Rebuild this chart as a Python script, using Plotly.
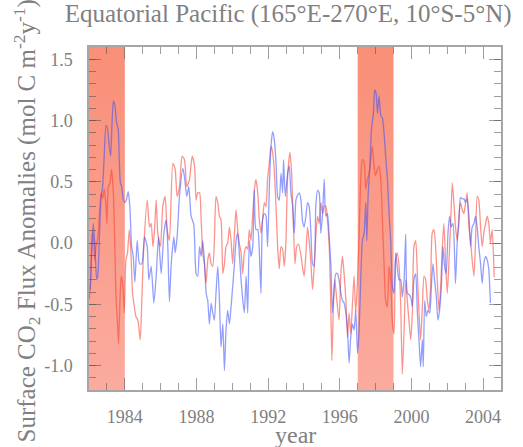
import plotly.graph_objects as go

# ---- data ----
blue_years = [1982.06, 1982.17, 1982.24, 1982.33, 1982.43, 1982.50, 1982.58, 1982.67, 1982.76, 1982.85,
              1982.95, 1983.04, 1983.13, 1983.21, 1983.28, 1983.36, 1983.45, 1983.54, 1983.63, 1983.69,
              1983.75, 1983.82, 1983.91, 1984.01, 1984.10, 1984.19, 1984.28, 1984.38, 1984.47, 1984.56,
              1984.69, 1984.82, 1984.95, 1985.10, 1985.25, 1985.34, 1985.47, 1985.62, 1985.75, 1985.88,
              1986.03, 1986.18, 1986.31, 1986.40, 1986.49, 1986.59, 1986.74, 1986.81, 1986.92, 1987.05,
              1987.24, 1987.33, 1987.46, 1987.57, 1987.70, 1987.85, 1987.98, 1988.07, 1988.17, 1988.26,
              1988.35, 1988.44, 1988.54, 1988.63, 1988.72, 1988.82, 1988.91, 1989.00, 1989.09, 1989.19,
              1989.28, 1989.37, 1989.47, 1989.56, 1989.65, 1989.74, 1989.84, 1989.93, 1990.02, 1990.12,
              1990.21, 1990.30, 1990.39, 1990.49, 1990.58, 1990.67, 1990.77, 1990.86, 1990.95, 1991.04,
              1991.14, 1991.23, 1991.32, 1991.42, 1991.51, 1991.60, 1991.69, 1991.79, 1991.88, 1991.97,
              1992.07, 1992.16, 1992.25, 1992.34, 1992.44, 1992.53, 1992.62, 1992.72, 1992.81, 1992.86,
              1992.96, 1993.09, 1993.18, 1993.27, 1993.37, 1993.46, 1993.55, 1993.64, 1993.74, 1993.83,
              1993.92, 1994.01, 1994.11, 1994.20, 1994.29, 1994.39, 1994.48, 1994.57, 1994.66, 1994.76,
              1994.85, 1994.94, 1995.04, 1995.13, 1995.22, 1995.31, 1995.41, 1995.50, 1995.59, 1995.69,
              1995.78, 1995.87, 1995.96, 1996.06, 1996.15, 1996.24, 1996.34, 1996.43, 1996.52, 1996.61,
              1996.71, 1996.80, 1996.89, 1996.99, 1997.08, 1997.17, 1997.26, 1997.36, 1997.45, 1997.51,
              1997.58, 1997.69, 1997.77, 1997.88, 1997.95, 1998.03, 1998.10, 1998.19, 1998.29, 1998.38,
              1998.47, 1998.56, 1998.66, 1998.75, 1998.84, 1998.94, 1999.03, 1999.12, 1999.21, 1999.31,
              1999.40, 1999.49, 1999.59, 1999.68, 1999.77, 1999.86, 1999.96, 2000.05, 2000.14, 2000.24,
              2000.33, 2000.42, 2000.51, 2000.61, 2000.66, 2000.74, 2000.83, 2000.92, 2001.02, 2001.11,
              2001.20, 2001.29, 2001.39, 2001.48, 2001.57, 2001.67, 2001.76, 2001.85, 2001.94, 2002.04,
              2002.13, 2002.22, 2002.32, 2002.41, 2002.46, 2002.56, 2002.65, 2002.74, 2002.84, 2002.93,
              2003.02, 2003.11, 2003.21, 2003.30, 2003.39, 2003.49, 2003.58, 2003.67, 2003.76, 2003.86,
              2003.95, 2004.04, 2004.14, 2004.23, 2004.32, 2004.41]
blue_values = [-0.38, -0.03, 0.16, -0.03, -0.30, -0.25, 0.05, 0.36, 0.46, 0.71,
               0.96, 0.93, 0.79, 0.71, 0.96, 1.16, 1.12, 0.98, 0.93, 0.68,
               0.49, 0.46, 0.36, 0.33, 0.36, 0.42, 0.30, -0.03, -0.11, -0.32,
               0.02, -0.17, -0.17, 0.05, -0.03, -0.30, -0.19, -0.49, -0.27, 0.05,
               -0.25, 0.08, 0.19, -0.03, -0.48, -0.17, 0.05, -0.08, 0.05, 0.38,
               0.61, 0.54, 0.38, 0.46, 0.22, 0.15, -0.25, -0.27, -0.03, -0.11,
               0.02, -0.14, -0.41, -0.47, -0.66, -0.49, -0.57, -0.63, -0.41, -0.19,
               -0.46, -0.85, -0.66, -1.04, -0.71, -0.55, -0.66, -0.52, -0.36, -0.17,
               0.02, 0.08, -0.08, -0.30, -0.46, -0.57, -0.27, -0.57, 0.02, -0.11,
               -0.03, 0.43, 0.11, 0.11, -0.08, -0.41, 0.19, 0.24, 0.22, -0.03,
               0.46, 0.79, 0.91, 0.85, 0.66, 0.38, 0.35, 0.57, 0.41, 0.68,
               0.38, 0.57, 0.63, 0.41, 0.30, 0.08, 0.35, 0.39, 0.41, 0.35,
               0.18, 0.13, 0.22, 0.33, 0.30, 0.08, -0.17, -0.19, 0.30, 0.43,
               0.41, 0.08, 0.24, 0.52, 0.22, 0.24, 0.05, -0.17, -0.57, -0.36,
               -0.25, -0.25, -0.30, -0.41, -0.47, -0.49, -0.57, -0.71, -0.98, -0.77,
               -0.66, -0.71, -0.55, -0.90, -0.71, -0.30, 0.02, 0.08, 0.33, 0.02,
               0.38, 0.66, 0.93, 1.06, 1.25, 1.22, 1.06, 1.20, 1.04, 1.02,
               0.90, 0.71, 0.52, 0.24, 0.02, -0.36, -0.41, -0.08, -0.20, -0.30,
               -0.30, -0.44, -0.30, 0.07, -0.41, -0.42, -0.44, -0.52, -0.30, -0.25,
               -0.57, -0.79, -1.01, -0.79, -1.01, -0.47, -0.60, -0.55, -0.57, -0.36,
               -0.17, -0.30, -0.44, -0.63, -0.55, -0.36, -0.03, -0.19, -0.25, 0.08,
               0.22, 0.13, 0.16, -0.11, -0.33, 0.02, 0.16, 0.37, 0.36, 0.36,
               0.33, 0.36, 0.22, -0.03, 0.13, 0.16, 0.22, 0.13, -0.03, -0.17,
               -0.33, -0.17, -0.11, -0.14, -0.22, -0.49]

red_years = [1982.02, 1982.09, 1982.17, 1982.24, 1982.32, 1982.39, 1982.50, 1982.67, 1982.76, 1982.85,
             1982.95, 1983.00, 1983.08, 1983.17, 1983.26, 1983.36, 1983.43, 1983.50, 1983.60, 1983.65,
             1983.73, 1983.80, 1983.88, 1983.97, 1984.06, 1984.15, 1984.25, 1984.34, 1984.43, 1984.53,
             1984.62, 1984.73, 1984.86, 1984.95, 1985.06, 1985.25, 1985.38, 1985.47, 1985.57, 1985.66,
             1985.75, 1985.84, 1985.99, 1986.12, 1986.25, 1986.36, 1986.49, 1986.68, 1986.81, 1986.92,
             1987.05, 1987.20, 1987.33, 1987.46, 1987.61, 1987.76, 1987.89, 1987.98, 1988.07, 1988.17,
             1988.26, 1988.35, 1988.44, 1988.54, 1988.63, 1988.72, 1988.82, 1988.91, 1989.00, 1989.09,
             1989.19, 1989.28, 1989.37, 1989.47, 1989.56, 1989.65, 1989.74, 1989.84, 1989.93, 1990.02,
             1990.12, 1990.21, 1990.30, 1990.39, 1990.49, 1990.58, 1990.67, 1990.77, 1990.86, 1990.95,
             1991.04, 1991.14, 1991.23, 1991.32, 1991.42, 1991.51, 1991.60, 1991.69, 1991.79, 1991.88,
             1991.97, 1992.07, 1992.16, 1992.25, 1992.34, 1992.44, 1992.53, 1992.62, 1992.72, 1992.81,
             1992.90, 1992.99, 1993.09, 1993.22, 1993.31, 1993.40, 1993.50, 1993.59, 1993.70, 1993.83,
             1993.92, 1994.01, 1994.11, 1994.20, 1994.29, 1994.39, 1994.48, 1994.57, 1994.66, 1994.76,
             1994.85, 1994.94, 1995.04, 1995.13, 1995.22, 1995.31, 1995.41, 1995.50, 1995.56, 1995.65,
             1995.72, 1995.83, 1995.96, 1996.06, 1996.15, 1996.24, 1996.34, 1996.43, 1996.52, 1996.61,
             1996.71, 1996.80, 1996.89, 1996.99, 1997.08, 1997.17, 1997.26, 1997.36, 1997.45, 1997.54,
             1997.64, 1997.73, 1997.82, 1997.91, 1997.99, 1998.10, 1998.19, 1998.29, 1998.38, 1998.47,
             1998.56, 1998.66, 1998.75, 1998.84, 1998.94, 1999.03, 1999.12, 1999.21, 1999.31, 1999.40,
             1999.49, 1999.59, 1999.68, 1999.77, 1999.86, 1999.96, 2000.05, 2000.14, 2000.24, 2000.33,
             2000.42, 2000.51, 2000.61, 2000.70, 2000.79, 2000.89, 2000.98, 2001.07, 2001.16, 2001.26,
             2001.35, 2001.44, 2001.54, 2001.63, 2001.72, 2001.81, 2001.91, 2002.00, 2002.09, 2002.19,
             2002.28, 2002.37, 2002.46, 2002.56, 2002.65, 2002.74, 2002.84, 2002.93, 2003.02, 2003.11,
             2003.21, 2003.30, 2003.39, 2003.49, 2003.58, 2003.67, 2003.76, 2003.86, 2003.95, 2004.04,
             2004.14, 2004.23, 2004.32, 2004.41, 2004.51, 2004.62]
red_values = [-0.46, -0.33, 0.08, 0.05, -0.14, -0.03, 0.05, 0.41, 0.36, 0.44,
              0.30, 0.16, 0.46, 0.49, 0.60, 0.41, 0.05, -0.41, -0.68, -0.82,
              -0.46, -0.27, -0.33, -0.57, -0.14, -0.08, 0.11, -0.08, -0.41, -0.52,
              -0.60, -0.63, -0.79, -0.46, -0.03, 0.35, 0.13, 0.16, -0.03, 0.11,
              0.35, 0.08, -0.03, 0.30, 0.38, 0.11, 0.02, 0.65, 0.60, 0.38,
              0.46, 0.71, 0.68, 0.46, 0.52, 0.71, 0.63, 0.35, 0.41, 0.41,
              0.19, -0.08, -0.17, -0.33, -0.14, -0.08, -0.17, -0.19, 0.02, 0.38,
              0.33, 0.22, 0.19, -0.25, -0.17, -0.03, 0.00, 0.13, 0.02, -0.17,
              0.08, 0.27, 0.11, 0.00, -0.08, -0.25, -0.08, -0.03, -0.05, 0.11,
              0.02, 0.24, 0.43, 0.52, 0.41, 0.19, 0.08, 0.19, 0.33, 0.30,
              0.52, 0.66, 0.79, 0.74, 0.60, 0.30, -0.03, -0.21, -0.03, -0.05,
              -0.19, 0.00, 0.55, 0.74, 0.57, 0.19, -0.17, -0.03, -0.01, -0.10,
              -0.20, -0.27, -0.08, 0.13, 0.02, -0.17, -0.38, -0.19, 0.05, 0.22,
              0.16, 0.33, 0.24, 0.30, 0.30, 0.19, -0.03, -0.52, -0.96, -0.49,
              -0.30, -0.46, -0.63, -0.25, -0.11, -0.25, -0.46, -0.77, -0.57, -0.74,
              -0.49, -0.27, -0.57, -0.30, 0.08, 0.52, 0.68, 0.66, 0.44, 0.52,
              0.57, 0.68, 0.79, 0.63, 0.55, 0.60, 0.63, 0.52, 0.19, -0.17,
              -0.47, -0.52, -0.19, -0.30, -0.66, -0.74, -0.14, -0.08, -0.19, -0.50,
              -1.07, -0.71, -0.30, -0.47, -0.63, -0.79, -0.57, -0.03, 0.02, -0.25,
              -0.57, -0.79, -0.52, -0.27, -0.30, -0.47, -0.55, -0.36, 0.08, 0.11,
              -0.03, -0.30, -0.55, -0.36, -0.05, 0.16, -0.17, -0.41, -0.17, 0.16,
              0.49, 0.33, 0.13, 0.02, 0.22, 0.33, 0.27, 0.24, 0.33, 0.41,
              0.13, 0.02, -0.14, -0.27, 0.02, 0.38, 0.35, 0.13, -0.03, 0.08,
              0.16, 0.22, 0.16, 0.00, 0.11, -0.28]

# El Nino periods (shaded)
event_starts = [1982, 1997]
event_ends = [1984, 1999]

x_range = [1982, 2005]
y_range = [-1.2, 1.6]
y_tick_vals = [-1.0, -0.5, 0.0, 0.5, 1.0, 1.5]
y_tick_text = ["-1.0", "-0.5", "0.0", "0.5", "1.0", "1.5"]

TEXT = "#808080"
AXIS = "#a6a6a6"
TICK = "rgba(80,80,80,0.55)"
FONT = "Liberation Serif"

fig = go.Figure()

for s, e in zip(event_starts, event_ends):
    fig.add_trace(go.Scatter(
        x=[s, e, e, s, s],
        y=[y_range[0], y_range[0], y_range[1], y_range[1], y_range[0]],
        mode="lines", line=dict(width=0), fill="toself",
        fillgradient=dict(type="vertical", start=y_range[0], stop=y_range[1],
                          colorscale=[[0, "#FBAB9F"], [1, "#F98F77"]]),
        hoverinfo="skip", showlegend=False))

fig.add_trace(go.Scatter(x=red_years, y=red_values, mode="lines",
                         line=dict(color="rgba(250,60,45,0.55)", width=1.3, shape="spline", smoothing=0.6),
                         showlegend=False))
fig.add_trace(go.Scatter(x=blue_years, y=blue_values, mode="lines",
                         line=dict(color="rgba(60,80,250,0.55)", width=1.3, shape="spline", smoothing=0.6),
                         showlegend=False))

common = dict(showline=True, linecolor=AXIS, linewidth=1.5, mirror="ticks", ticks="inside",
              ticklen=12, tickwidth=1.2, tickcolor=TICK, showgrid=False, zeroline=False,
              automargin=False,
              tickfont=dict(family=FONT, size=18, color=TEXT))

fig.update_xaxes(range=x_range, tickmode="linear", tick0=1984, dtick=4,
                 minor=dict(tickmode="linear", tick0=1982, dtick=1, ticks="inside", ticklen=7,
                            tickwidth=1.2, tickcolor=TICK),
                 ticklabelstandoff=10,
                 **common)
fig.update_yaxes(range=y_range, tickmode="array", tickvals=y_tick_vals, ticktext=y_tick_text,
                 minor=dict(tickmode="linear", tick0=0, dtick=0.1, ticks="inside", ticklen=7,
                            tickwidth=1.2, tickcolor=TICK),
                 ticklabelstandoff=11,
                 **common)

fig.update_layout(
    width=523, height=447,
    margin=dict(l=89, r=22, t=47, b=57),
    paper_bgcolor="white", plot_bgcolor="white",
    title=dict(text="Equatorial Pacific (165°E-270°E, 10°S-5°N)", xref="container", x=0.551,
               xanchor="center", yref="container", y=0.970, yanchor="middle",
               font=dict(family=FONT, size=25, color=TEXT)),
    showlegend=False,
    annotations=[
        dict(text="Surface CO<sub>2</sub> Flux Anomalies (mol C m<sup>-2</sup>y<sup>-1</sup>)",
             xref="paper", yref="paper", x=0, y=0.5, xanchor="center", yanchor="middle",
             xshift=-63, yshift=-3, textangle=-90, showarrow=False,
             font=dict(family=FONT, size=25, color=TEXT)),
        dict(text="year", xref="paper", yref="paper", x=0.5, y=0, xanchor="center",
             yanchor="middle", yshift=-45, showarrow=False,
             font=dict(family=FONT, size=24, color=TEXT)),
    ],
)

fig.write_html("out.html", config={"displayModeBar": False},
               post_script="document.body.style.margin='0px';")
